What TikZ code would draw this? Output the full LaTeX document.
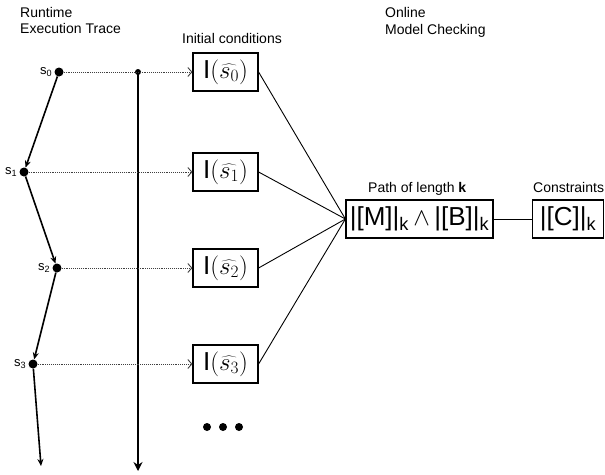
\documentclass[tikz,border=0pt]{standalone}
\usepackage{fontspec}
\setmainfont{Liberation Sans}
\usetikzlibrary{arrows.meta}
\begin{document}
\begin{tikzpicture}[x=1pt,y=-1pt,
  lbl/.style={font=\fontsize{14}{16}\selectfont, inner sep=0},
  slbl/.style={font=\fontsize{13}{15}\selectfont, inner sep=0, anchor=east},
  ibox/.style={draw, line width=1.2pt, minimum width=65pt, minimum height=38pt, inner sep=0, font=\fontsize{26}{28}\selectfont},
  bbox/.style={draw, line width=1.2pt, minimum height=38pt, inner sep=0, font=\fontsize{26}{28}\selectfont},
  state/.style={circle, fill, inner sep=0, minimum size=9pt},
  tdot/.style={circle, fill, inner sep=0, minimum size=6pt},
  edot/.style={circle, fill, inner sep=0, minimum size=8pt},
  trace/.style={line width=1.6pt, -{Stealth[length=7pt,width=6pt]}},
  timeline/.style={line width=2pt, -{Stealth[length=9pt,width=9pt]}},
  obs/.style={densely dotted, line width=0.9pt, draw=black!75, -{Straight Barb[length=4pt,width=9pt]}},
  link/.style={line width=0.9pt}]
\useasboundingbox (0,0) rectangle (605,474);

% header labels
\node[lbl, anchor=base west] (rt1) at (20,17) {Runtime};
\node[lbl, anchor=base west] (rt2) at (20,33) {Execution Trace};
\node[lbl, anchor=base west] (ic) at (182,43) {Initial conditions};
\node[lbl, anchor=base west] (om1) at (385,17) {Online};
\node[lbl, anchor=base west] (om2) at (385,34) {Model Checking};
\node[lbl, anchor=base west] (pl) at (368,192) {Path of length \textbf{k}};
\node[lbl, anchor=base west] (cs) at (533,192) {Constraints};

% states
\node[state] (s0) at (59,72) {};
\node[state] (s1) at (24,172) {};
\node[state] (s2) at (57,268) {};
\node[state] (s3) at (33,364) {};
\coordinate (se) at (41,466);
\node[slbl] at ([xshift=-2pt]s0.west) {s\textsubscript{0}};
\node[slbl] at ([xshift=-2pt]s1.west) {s\textsubscript{1}};
\node[slbl] at ([xshift=-2pt]s2.west) {s\textsubscript{2}};
\node[slbl] at ([xshift=-2pt]s3.west) {s\textsubscript{3}};

\draw[trace] (s0) -- (s1);
\draw[trace] (s1) -- (s2);
\draw[trace] (s2) -- (s3);
\draw[trace] (s3) -- (se);

% timeline
\node[tdot] (t0) at (138,72) {};
\coordinate (t1) at (138,471);
\draw[timeline] (t0.center) -- (t1);

% initial condition boxes
\node[ibox] (b0) at (225.5,72) {I$(\widehat{s_0})$};
\node[ibox] (b1) at (225.5,172) {I$(\widehat{s_1})$};
\node[ibox] (b2) at (225.5,268) {I$(\widehat{s_2})$};
\node[ibox] (b3) at (225.5,364) {I$(\widehat{s_3})$};

\draw[obs] (s0) -- (b0);
\draw[obs] (s1) -- (b1);
\draw[obs] (s2) -- (b2);
\draw[obs] (s3) -- (b3);

% ellipsis
\node[edot] (d1) at (207,427) {};
\node[edot] (d2) at (223,427) {};
\node[edot] (d3) at (239,427) {};

% path box and constraints
\node[bbox, minimum width=147pt] (big) at (419.5,219) {|[M]|\textsubscript{k}\,$\wedge$\,|[B]|\textsubscript{k}};
\node[bbox, minimum width=71pt] (con) at (568,219) {|[C]|\textsubscript{k}};

\draw[link] (b0.east) -- (big.west);
\draw[link] (b1.east) -- (big.west);
\draw[link] (b2.east) -- (big.west);
\draw[link] (b3.east) -- (big.west);
\draw[link] (big) -- (con);
\end{tikzpicture}
\end{document}
